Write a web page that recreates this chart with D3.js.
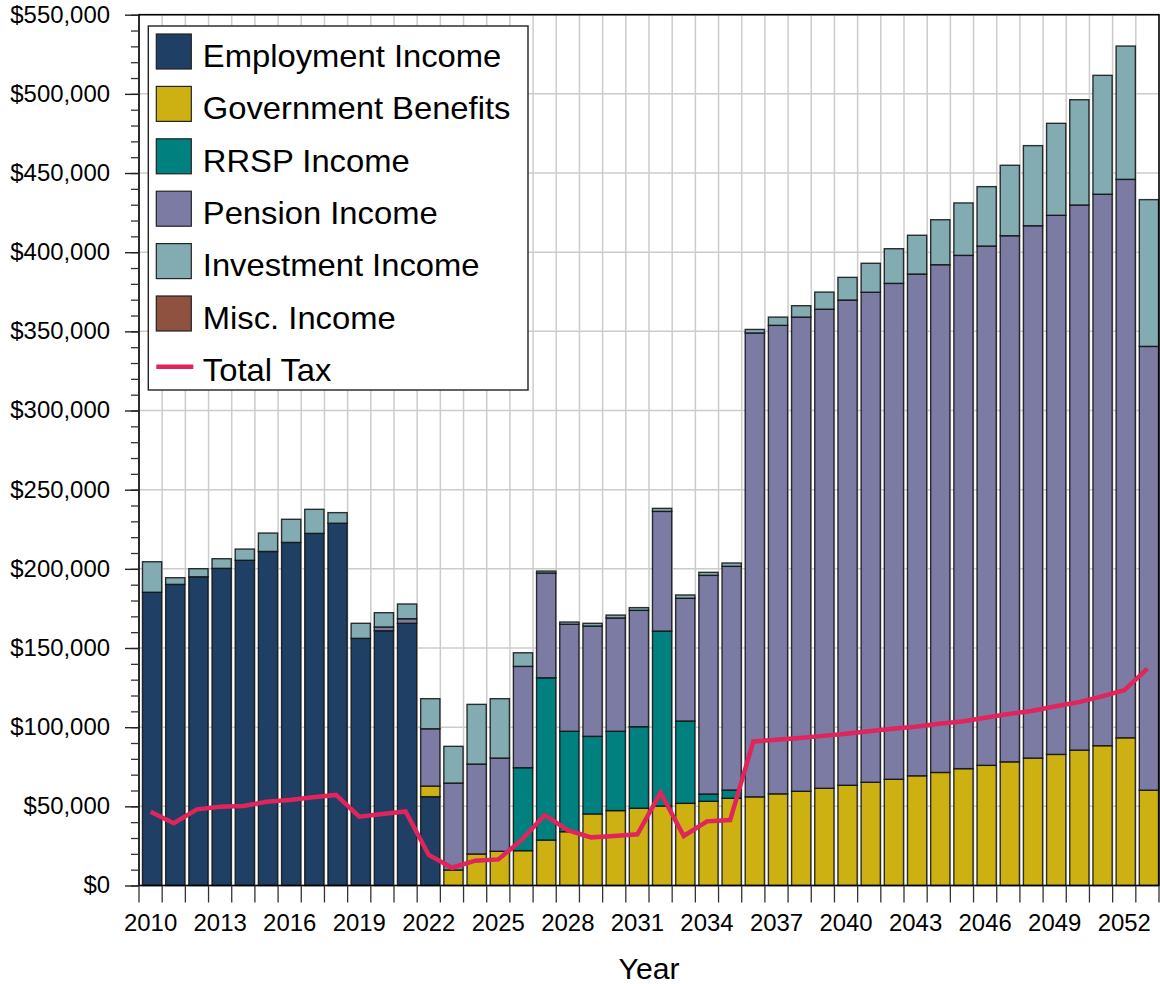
<!DOCTYPE html>
<html>
<head>
<meta charset="utf-8">
<script src="https://cdn.jsdelivr.net/npm/d3@7"></script>
<style>
body{margin:0;background:#fff}
svg{display:block}
text{font-family:"Liberation Sans",Arial,sans-serif;fill:#000}
</style>
</head>
<body>
<div id="chart"></div>
<script>
var years = [2010,2011,2012,2013,2014,2015,2016,2017,2018,2019,2020,2021,2022,2023,2024,2025,2026,2027,2028,2029,2030,2031,
             2032,2033,2034,2035,2036,2037,2038,2039,2040,2041,2042,2043,2044,2045,2046,2047,2048,2049,2050,2051,2052,2053];

var employment = [185200,190200,195000,200300,205400,211000,216700,222400,228800,156100,160900,165600,56100,
                  0,0,0,0,0,0,0,0,0,0,0,0,0,0,0,0,0,0,0,0,0,0,0,0,0,0,0,0,0,0,0];
var government = [0,0,0,0,0,0,0,0,0,0,0,0,
                  6700,9800,19900,21600,22000,28700,34000,45200,47300,48800,50200,51900,53200,55100,56000,57900,
                  59500,61400,63300,65200,67100,69300,71400,73800,75900,78100,80500,82800,85500,88300,93300,60200];
var rrsp = [0,0,0,0,0,0,0,0,0,0,0,0,0,0,0,0,
            52400,102500,63400,49000,50100,51500,110500,52000,4600,5200,
            0,0,0,0,0,0,0,0,0,0,0,0,0,0,0,0,0,0];
var pension = [0,0,0,0,0,0,0,0,0,0,
               2400,2900,36200,54900,56800,58900,64000,66200,67600,69700,71600,73500,75600,77500,138100,141300,
               293000,295900,299500,302600,306500,309500,313200,316900,320700,324200,328000,332300,336200,340500,
               344300,348300,352700,280300];
var investment = [19300,4200,5100,6100,7100,11600,14600,15200,6700,9500,
                  9000,9300,19000,23200,37700,37500,8600,1200,1400,1700,
                  1800,1700,1900,2100,1900,2100,2200,5200,7200,10800,
                  14300,18300,21900,24500,28400,33100,37500,44500,50600,58100,
                  66500,75100,84200,92700];
var misc = [0,0,0,0,0,0,0,0,0,0,0,0,0,0,0,0,0,0,0,0,0,0,0,0,0,0,0,0,0,0,0,0,0,0,0,0,0,0,0,0,0,0,0,0];
var totalTax = [46600,39300,48100,49800,50200,52900,54000,55700,57200,43500,
                45200,46800,19300,11200,15700,16500,28700,44500,35000,30400,
                31300,32300,58600,31300,40500,41300,91000,92000,93100,94500,
                95900,97400,99000,100200,102100,103600,106000,108300,110200,113100,
                115700,119300,123300,137000];

var seriesKeys = ["employment","government","rrsp","pension","investment","misc"];
var seriesNames = ["Employment Income","Government Benefits","RRSP Income","Pension Income","Investment Income","Misc. Income"];
var seriesColors = ["#1f3f64","#cdb012","#00807e","#7b7ba3","#82acb2","#8f5140"];
var taxName = "Total Tax";
var taxColor = "#e0245c";

var yTickValues = [0,50000,100000,150000,200000,250000,300000,350000,400000,450000,500000,550000];
var xLabelYears = [2010,2013,2016,2019,2022,2025,2028,2031,2034,2037,2040,2043,2046,2049,2052];

function start(){
    drawChart();
}

function drawChart(){
    var width = 1160, height = 984;
    var margin = {top: 14.7, right: 1, bottom: 98.5, left: 139};
    var plotW = width - margin.left - margin.right;
    var plotH = height - margin.top - margin.bottom;
    var sx = 1.04; // text in the picture is a touch wider than tall

    var svg = d3.select("#chart").append("svg")
        .attr("width", width)
        .attr("height", height);

    var g = svg.append("g").attr("transform", "translate(" + margin.left + "," + margin.top + ")");

    var table = years.map(function(yr, i){
        return {year: yr, employment: employment[i], government: government[i], rrsp: rrsp[i],
                pension: pension[i], investment: investment[i], misc: misc[i], tax: totalTax[i]};
    });

    var x = d3.scaleBand().domain(years).range([0, plotW]).padding(0);
    var y = d3.scaleLinear().domain([0, 550000]).range([plotH, 0]);
    var bw = x.bandwidth();

    // grid
    g.append("g").selectAll("line")
        .data(yTickValues).enter().append("line")
        .attr("x1", 0).attr("x2", plotW)
        .attr("y1", function(d){ return y(d); })
        .attr("y2", function(d){ return y(d); })
        .style("stroke", "#cccccc").style("stroke-width", 1.5);
    g.append("g").selectAll("line")
        .data(years).enter().append("line")
        .attr("x1", function(d){ return x(d); })
        .attr("x2", function(d){ return x(d); })
        .attr("y1", 0).attr("y2", plotH)
        .style("stroke", "#cccccc").style("stroke-width", 1.5);

    // stacked bars
    var stack = d3.stack().keys(seriesKeys);
    var layers = stack(table);

    g.append("g").selectAll("g")
        .data(layers).enter().append("g")
        .style("fill", function(d, i){ return seriesColors[i]; })
        .selectAll("rect")
        .data(function(d){ return d.filter(function(p){ return p[1] - p[0] > 0; }); })
        .enter().append("rect")
        .attr("x", function(d){ return x(d.data.year) + bw * 0.15; })
        .attr("width", bw * 0.83)
        .attr("y", function(d){ return y(d[1]); })
        .attr("height", function(d){ return y(d[0]) - y(d[1]); })
        .style("stroke", "#111")
        .style("stroke-opacity", 0.85)
        .style("stroke-width", 1.4);

    // tax line
    var line = d3.line()
        .x(function(d){ return x(d.year) + bw / 2; })
        .y(function(d){ return y(d.tax); });
    g.append("path")
        .datum(table)
        .attr("d", line)
        .style("fill", "none")
        .style("stroke", taxColor)
        .style("stroke-width", 4.5)
        .style("stroke-linejoin", "miter");

    // border
    g.append("rect")
        .attr("x", 0).attr("y", 0)
        .attr("width", plotW).attr("height", plotH)
        .style("fill", "none").style("stroke", "#000").style("stroke-width", 1.6);

    // y axis
    var yMinor = g.append("g")
        .call(d3.axisLeft(y).ticks(55).tickSize(8).tickFormat(""));
    yMinor.select(".domain").remove();
    yMinor.selectAll("line").style("stroke", "#333").style("stroke-width", 1.3);

    var yAxis = g.append("g")
        .call(d3.axisLeft(y).tickValues(yTickValues).tickSize(14).tickPadding(0)
              .tickFormat(function(d){ return "$" + d3.format(",")(d); }));
    yAxis.select(".domain").remove();
    yAxis.selectAll("line").style("stroke", "#222").style("stroke-width", 1.4);
    yAxis.selectAll("text")
        .attr("x", -29 / sx)
        .attr("transform", "scale(" + sx + ",1)")
        .style("font-size", "23px")
        .style("fill", "#000");

    // x axis: edge ticks + labels every 3 years
    var xTicks = g.append("g").attr("transform", "translate(0," + plotH + ")");
    xTicks.selectAll("line")
        .data(years.concat(["end"])).enter().append("line")
        .attr("x1", function(d){ return d === "end" ? plotW : x(d); })
        .attr("x2", function(d){ return d === "end" ? plotW : x(d); })
        .attr("y1", 0).attr("y2", 17)
        .style("stroke", "#333").style("stroke-width", 1.3);

    var xAxis = g.append("g")
        .attr("transform", "translate(0," + plotH + ")")
        .call(d3.axisBottom(x).tickValues(xLabelYears).tickSize(0).tickPadding(29));
    xAxis.select(".domain").remove();
    xAxis.selectAll("text")
        .attr("transform", "scale(" + sx + ",1)")
        .style("font-size", "23px")
        .style("fill", "#000");

    svg.append("text")
        .attr("transform", "translate(" + (margin.left + plotW / 2) + ",979) scale(" + sx + ",1)")
        .attr("text-anchor", "middle")
        .style("font-size", "29px")
        .text("Year");

    // legend
    var legend = svg.append("g").attr("transform", "translate(148.3,26)");
    legend.append("rect")
        .attr("width", 379.7).attr("height", 364)
        .style("fill", "#fff").style("stroke", "#222").style("stroke-width", 1.4);

    var rowH = 52.4;
    var items = legend.selectAll("g.item")
        .data(seriesNames).enter().append("g")
        .attr("class", "item")
        .attr("transform", function(d, i){ return "translate(0," + (i * rowH) + ")"; });
    items.append("rect")
        .attr("x", 8).attr("y", 8)
        .attr("width", 35).attr("height", 35)
        .style("fill", function(d, i){ return seriesColors[i]; })
        .style("stroke", "#222").style("stroke-width", 1.2);
    items.append("text")
        .attr("transform", "translate(54.5,40.7) scale(" + sx + ",1)")
        .style("font-size", "31.5px")
        .text(function(d){ return d; });

    var taxItem = legend.append("g").attr("transform", "translate(0," + (6 * rowH) + ")");
    taxItem.append("line")
        .attr("x1", 8).attr("x2", 45)
        .attr("y1", 26.3).attr("y2", 26.3)
        .style("stroke", taxColor).style("stroke-width", 4.5);
    taxItem.append("text")
        .attr("transform", "translate(54.5,40.7) scale(" + sx + ",1)")
        .style("font-size", "31.5px")
        .text(taxName);
}

start();
</script>
</body>
</html>
